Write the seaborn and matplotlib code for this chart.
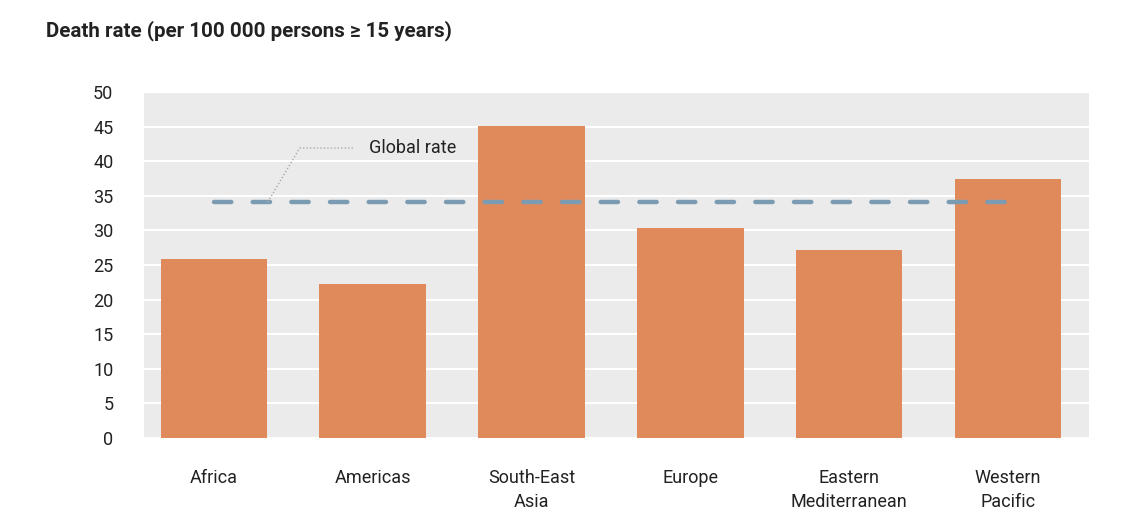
import seaborn as sns
import matplotlib.pyplot as plt
import pandas as pd

# Death rate per region
regions = ['Africa', 'Americas', 'South-East\nAsia', 'Europe', 'Eastern\nMediterranean', 'Western\nPacific']
death_rate = [25.9, 22.3, 45.1, 30.4, 27.2, 37.5]
global_rate = 34.1

df = pd.DataFrame({'region': regions, 'rate': death_rate})

sns.set_theme(style="white")
plt.rcParams['font.family'] = ['Roboto', 'DejaVu Sans']

fig = plt.figure(figsize=(11.48, 5.32), dpi=100)
ax = fig.add_axes([0.1254, 0.1767, 0.8232, 0.6503])
ax.set_facecolor('#ebebeb')

sns.barplot(data=df, x='region', y='rate', color='#e08a5c', saturation=1,
            width=0.67, linewidth=0, edgecolor='none', ax=ax, zorder=3)

ax.set_xlim(-0.44, 5.51)
ax.set_ylim(0, 50)
ax.set_yticks(range(0, 51, 5))
ax.grid(axis='y', color='white', linewidth=1.5, zorder=0)
ax.set_axisbelow(True)
for s in ax.spines.values():
    s.set_visible(False)
ax.tick_params(axis='both', length=0, labelsize=13, colors='#222222')
ax.tick_params(axis='y', pad=22)
ax.tick_params(axis='x', pad=22)
for lbl in ax.get_xticklabels():
    lbl.set_linespacing(1.45)
ax.set_xlabel('')
ax.set_ylabel('')

# global rate line from first to last category
ax.plot([0, len(regions) - 1], [global_rate, global_rate], color='#7b9bb2',
        linewidth=3.2, dashes=(3.9, 4.8), zorder=4,
        dash_capstyle='round')

# leader line + label
ax.plot([0.34, 0.54, 0.88], [global_rate, 41.9, 41.9], color='#aaaaaa',
        linewidth=1, linestyle=(0, (1, 1.5)), zorder=4)
ax.text(0.98, 41.9, 'Global rate', fontsize=13, color='#222222',
        va='center', ha='left', zorder=5)

fig.text(0.04, 0.943, 'Death rate (per 100 000 persons \u2265 15 years)',
         fontsize=14.8, fontweight='bold', color='#222222', va='center', ha='left')

fig.savefig('out.png', dpi=100)
